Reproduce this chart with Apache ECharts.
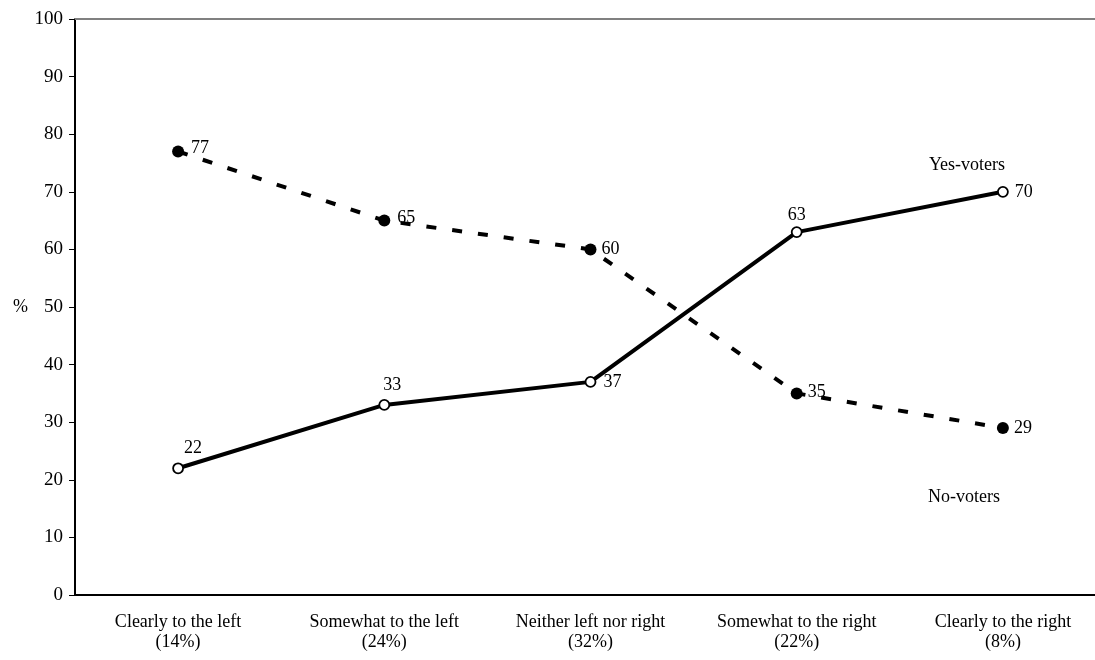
<!DOCTYPE html>
<html><head><meta charset="utf-8">
<script src="https://cdn.jsdelivr.net/npm/echarts@6/dist/echarts.min.js"></script>
<style>html,body{margin:0;padding:0;background:#fff}#c{width:1095px;height:660px}</style>
</head><body><div id="c"></div>
<script>
var categories = ['Clearly to the left\n(14%)', 'Somewhat to the left\n(24%)', 'Neither left nor right\n(32%)', 'Somewhat to the right\n(22%)', 'Clearly to the right\n(8%)'];
var yesVoters = [22, 33, 37, 63, 70];
var noVoters = [77, 65, 60, 35, 29];
var yTicks = [0, 10, 20, 30, 40, 50, 60, 70, 80, 90, 100];

// label placement (style only)
var yesLabelStyle = [
  { position: 'top', offset: [15, 0] },
  { position: 'top', offset: [8, 0] },
  { position: 'right', offset: [2, 0] },
  { position: 'top', offset: [0, 3] },
  { position: 'right', offset: [1, 0] }
];
var noLabelStyle = [
  { position: 'right', offset: [2, -3] },
  { position: 'right', offset: [2, -2] },
  { position: 'right', offset: [0, 0] },
  { position: 'right', offset: [0, -1] },
  { position: 'right', offset: [0, 0] }
];

var F = '"Liberation Serif", "Times New Roman", serif';
function items(vals, styles) {
  return vals.map(function (v, i) {
    return { value: v, label: styles[i] };
  });
}
var chart = echarts.init(document.getElementById('c'));
chart.setOption({
  animation: false,
  grid: { left: 75, width: 1031, top: 19, bottom: 65, containLabel: false, outerBoundsMode: 'none' },
  xAxis: [{
    type: 'category', data: categories, boundaryGap: true,
    axisLine: { lineStyle: { color: '#000', width: 2 } },
    axisTick: { show: false },
    axisLabel: { color: '#000', fontFamily: F, fontSize: 18, lineHeight: 20, margin: 17, interval: 0 }
  }, {
    type: 'category', data: categories, position: 'top',
    axisLine: { lineStyle: { color: '#808080', width: 2 } },
    axisTick: { show: false }, axisLabel: { show: false }
  }],
  yAxis: {
    type: 'value', min: yTicks[0], max: yTicks[yTicks.length - 1], interval: 10,
    name: '%', nameLocation: 'middle', nameRotate: 0, nameGap: 47,
    nameTextStyle: { color: '#000', fontFamily: F, fontSize: 18 },
    axisLine: { show: true, lineStyle: { color: '#000', width: 2 } },
    axisTick: { show: true, length: 6, lineStyle: { color: '#000', width: 1 } },
    axisLabel: { color: '#000', fontFamily: F, fontSize: 19, margin: 12 },
    splitLine: { show: false }
  },
  series: [{
    name: 'No-voters', type: 'line', data: items(noVoters, noLabelStyle),
    symbol: 'circle', symbolSize: 12,
    itemStyle: { color: '#000' },
    lineStyle: { color: '#000', width: 4, type: [10, 16] },
    label: { show: true, color: '#000', fontFamily: F, fontSize: 18 }
  }, {
    name: 'Yes-voters', type: 'line', data: items(yesVoters, yesLabelStyle),
    symbol: 'circle', symbolSize: 10,
    itemStyle: { color: '#fff', borderColor: '#000', borderWidth: 1.8 },
    lineStyle: { color: '#000', width: 4 },
    label: { show: true, color: '#000', fontFamily: F, fontSize: 18 }
  }],
  graphic: [
    { type: 'text', x: 967, y: 165, style: { text: 'Yes-voters', fill: '#000', font: '18px ' + F, textAlign: 'center', textVerticalAlign: 'middle' } },
    { type: 'text', x: 964, y: 497, style: { text: 'No-voters', fill: '#000', font: '18px ' + F, textAlign: 'center', textVerticalAlign: 'middle' } }
  ]
});
</script></body></html>
